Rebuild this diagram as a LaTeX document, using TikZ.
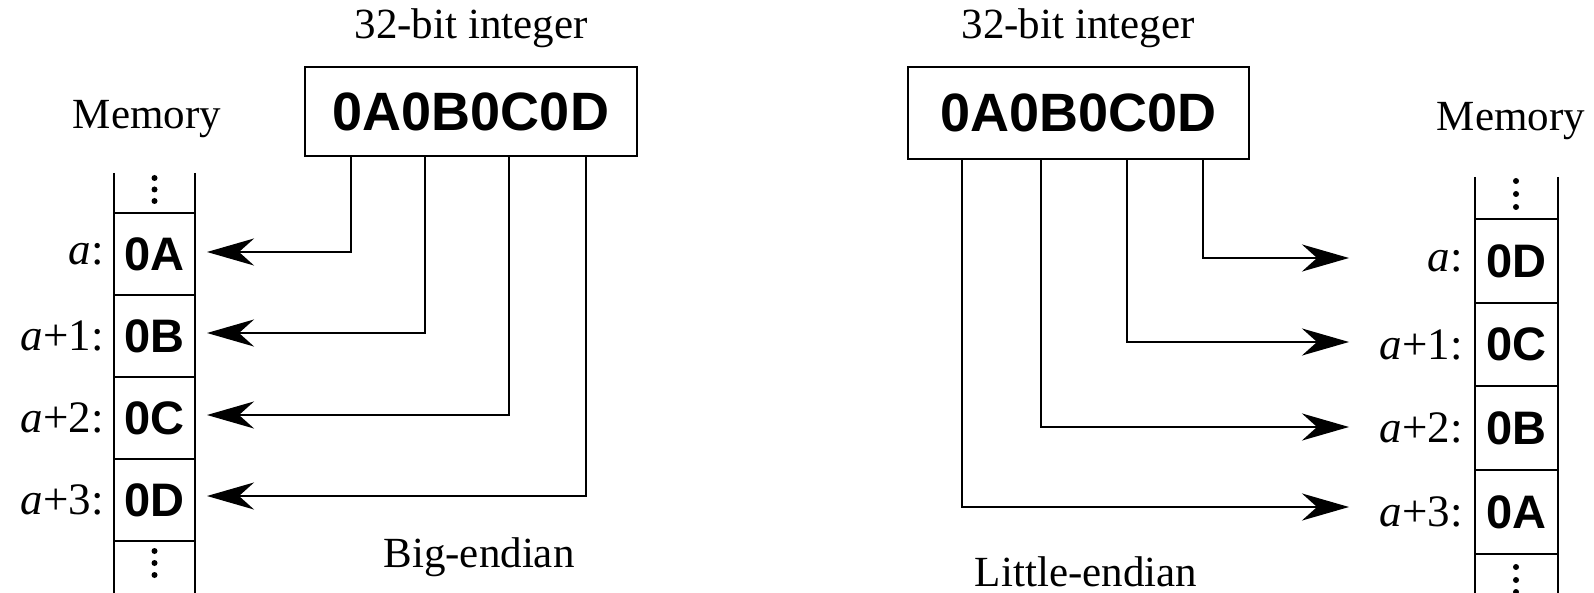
\documentclass[tikz,border=0pt]{standalone}
\usepackage{fontspec}
\setmainfont{Liberation Serif}
\setsansfont{Liberation Sans}
\usetikzlibrary{arrows.meta}
\tikzset{
  txt/.style={inner sep=0pt, font=\fontsize{43}{47}\selectfont},
  lbl/.style={inner sep=0pt, anchor=east, font=\fontsize{45}{49}\selectfont},
  bigbox/.style={draw, line width=2.6pt, inner sep=0pt, font=\sffamily\bfseries\fontsize{54}{59}\selectfont},
  cell/.style={inner sep=0pt, font=\sffamily\bfseries\fontsize{47}{52}\selectfont},
  col/.style={line width=1.6pt},
  conn/.style={line width=2.6pt, -{Stealth[length=47pt, width=27pt, inset=15pt]}},
  dot/.style={fill=black},
}
\begin{document}
\begin{tikzpicture}[x=1pt,y=-1pt]
\useasboundingbox (0,0) rectangle (1594,593);

% ---------------- Left: big-endian ----------------
\node[txt] (tL) at (471,28) {32-bit integer};
\node[txt] (mL) at (147,119) {Memory};
\node[txt] (bL) at (479,557) {Big-endian};
\node[bigbox, minimum width=332pt, minimum height=89pt] (BL) at (471,111.5) {0A0B0C0D};

% memory column
\draw[col] (114,173) -- (114,593);
\draw[col] (195,173) -- (195,593);
\foreach \y in {213,295,377,459,541} \draw[col] (114,\y) -- (195,\y);
\foreach \y in {178,189.5,201,551,563,575} \fill[dot] (154.5,\y) circle (3pt);

\node[cell] (cL0) at (154.5,254) {0A};
\node[cell] (cL1) at (154.5,336) {0B};
\node[cell] (cL2) at (154.5,418) {0C};
\node[cell] (cL3) at (154.5,500) {0D};

\node[lbl] (aL0) at (104,254) {\textit{a}:};
\node[lbl] (aL1) at (104,336) {\textit{a}+1:};
\node[lbl] (aL2) at (104,418) {\textit{a}+2:};
\node[lbl] (aL3) at (104,500) {\textit{a}+3:};

\coordinate (sL0) at (351,156);
\coordinate (sL1) at (425,156);
\coordinate (sL2) at (509,156);
\coordinate (sL3) at (586,156);
\coordinate (eL0) at (207,252);
\coordinate (eL1) at (207,333);
\coordinate (eL2) at (207,415);
\coordinate (eL3) at (207,496);
\draw[conn] (sL0) |- (eL0);
\draw[conn] (sL1) |- (eL1);
\draw[conn] (sL2) |- (eL2);
\draw[conn] (sL3) |- (eL3);

% ---------------- Right: little-endian ----------------
\node[txt] (tR) at (1078,28) {32-bit integer};
\node[txt] (mR) at (1511,121) {Memory};
\node[txt] (bR) at (1086,572) {Little-endian};
\node[bigbox, minimum width=341pt, minimum height=92pt] (BR) at (1078.5,113) {0A0B0C0D};

\draw[col] (1475,177) -- (1475,593);
\draw[col] (1558,177) -- (1558,593);
\foreach \y in {219,303,386,470,554} \draw[col] (1475,\y) -- (1558,\y);
\foreach \y in {181,194,207,567,580,592} \fill[dot] (1516,\y) circle (3pt);

\node[cell] (cR0) at (1516.5,261) {0D};
\node[cell] (cR1) at (1516.5,344.5) {0C};
\node[cell] (cR2) at (1516.5,428) {0B};
\node[cell] (cR3) at (1516.5,512) {0A};

\node[lbl] (aR0) at (1463,261) {\textit{a}:};
\node[lbl] (aR1) at (1463,344.5) {\textit{a}+1:};
\node[lbl] (aR2) at (1463,428) {\textit{a}+2:};
\node[lbl] (aR3) at (1463,512) {\textit{a}+3:};

\coordinate (sR0) at (1203,159);
\coordinate (sR1) at (1127,159);
\coordinate (sR2) at (1041,159);
\coordinate (sR3) at (962,159);
\coordinate (eR0) at (1349,258);
\coordinate (eR1) at (1349,342);
\coordinate (eR2) at (1349,427);
\coordinate (eR3) at (1349,507);
\draw[conn] (sR0) |- (eR0);
\draw[conn] (sR1) |- (eR1);
\draw[conn] (sR2) |- (eR2);
\draw[conn] (sR3) |- (eR3);
\end{tikzpicture}
\end{document}
